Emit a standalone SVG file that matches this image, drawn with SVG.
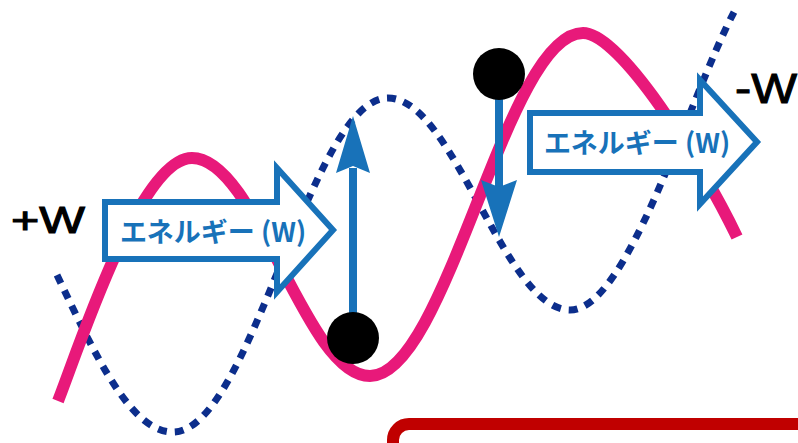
<svg xmlns="http://www.w3.org/2000/svg" width="798" height="443" viewBox="0 0 798 443">
  <style>
    .dots { fill: none; stroke: #0C2E8C; stroke-width: 7; stroke-dasharray: 9 8; }
    .pink { fill: none; stroke: #E8197A; stroke-width: 12; }
    .earrow { fill: #FFFFFF; stroke: #1872B9; stroke-width: 6; stroke-linejoin: miter; stroke-miterlimit: 10; }
    .elabel { font-family: "Noto Sans CJK JP", "Noto Sans", sans-serif; font-weight: bold; font-size: 27px; fill: #1872B9; text-anchor: middle; }
    .wlabel { font-family: "Liberation Sans", Arial, sans-serif; fill: #000000; stroke: #000000; stroke-width: 1; }
    .shaft { stroke: #1872B9; stroke-width: 8; fill: none; }
    .head { fill: #1872B9; stroke: none; }
    .ball { fill: #000000; }
  </style>

  <rect x="0" y="0" width="798" height="443" fill="#FFFFFF"/>

  <g id="red-frame">
    <rect x="393" y="424" width="460" height="80" rx="16" ry="16" fill="#FFFFFF" stroke="#C00000" stroke-width="12"/>
  </g>

  <g id="dotted-wave">
    <path class="dots" d="M57,275 C96,357 131,432 173,432 C251,432 310,98 388,98 C454,98 504,310 570,310 C628,310 688,100 734,12"/>
  </g>

  <g id="pink-wave">
    <path class="pink" d="M58,401 C80,345 140,158 192,158 C257,158 305,376 370,376 C447,376 506,33 583,33 C620,33 700,160 737,237"/>
  </g>

  <g id="energy-left">
    <path class="earrow" d="M105,202 L277,202 L277,168 L333,230 L277,292 L277,259 L105,259 Z"/>
    <text class="elabel" x="213" y="242">エネルギー (W)</text>
  </g>

  <g id="energy-right">
    <path class="earrow" d="M530,113 L700,113 L700,80 L757,142 L700,204 L700,172 L530,172 Z"/>
    <text class="elabel" x="637" y="153">エネルギー (W)</text>
  </g>

  <g id="label-plus">
    <text class="wlabel" x="11" y="233" font-size="36" textLength="74" lengthAdjust="spacingAndGlyphs">+W</text>
  </g>

  <g id="label-minus">
    <text class="wlabel" x="735" y="103" font-size="42" textLength="62" lengthAdjust="spacingAndGlyphs">-W</text>
  </g>

  <g id="connectors">
    <g id="arrow-up">
      <line class="shaft" x1="353" y1="315" x2="353" y2="168"/>
      <path class="head" d="M353,116 L370,173 L353,166 L336,173 Z"/>
    </g>
    <g id="arrow-down">
      <line class="shaft" x1="499" y1="95" x2="499" y2="188"/>
      <path class="head" d="M499,237 L517,180 L499,187 L481,180 Z"/>
    </g>
  </g>

  <g id="ball-low">
    <circle class="ball" cx="353" cy="338" r="26"/>
  </g>
  <g id="ball-high">
    <circle class="ball" cx="499" cy="74" r="26"/>
  </g>
</svg>
